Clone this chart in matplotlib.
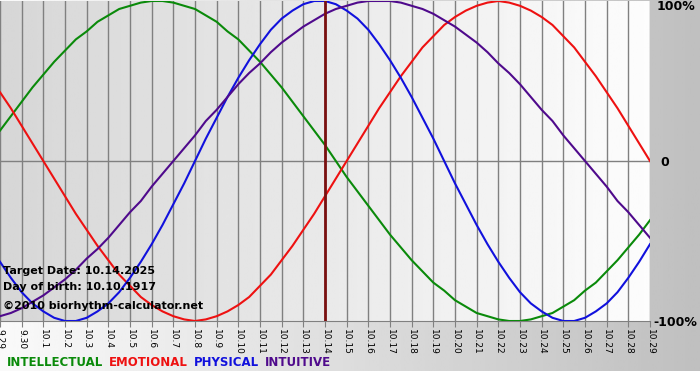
import numpy as np
import matplotlib
matplotlib.use("Agg")
import matplotlib.pyplot as plt

# day labels, 9.29 .. 10.29
dates = ["9.29", "9.30"] + ["10.%d" % i for i in range(1, 30)]

# values (-1 .. 1), one every half day from 9.29 to 10.29
intellectual = [0.19, 0.28, 0.37, 0.46, 0.54, 0.62, 0.69, 0.76, 0.81, 0.87, 0.91, 0.95,
                0.97, 0.99, 1.00, 1.00, 0.99, 0.97, 0.95, 0.91, 0.87, 0.81, 0.76, 0.69,
                0.62, 0.54, 0.46, 0.37, 0.28, 0.19, 0.10, 0.00, -0.10, -0.19, -0.28,
                -0.37, -0.46, -0.54, -0.62, -0.69, -0.76, -0.81, -0.87, -0.91, -0.95,
                -0.97, -0.99, -1.00, -1.00, -0.99, -0.97, -0.95, -0.91, -0.87, -0.81,
                -0.76, -0.69, -0.62, -0.54, -0.46, -0.37]
emotional = [0.43, 0.33, 0.22, 0.11, 0.00, -0.11, -0.22, -0.33, -0.43, -0.53, -0.62,
             -0.71, -0.78, -0.85, -0.90, -0.94, -0.97, -0.99, -1.00, -0.99, -0.97,
             -0.94, -0.90, -0.85, -0.78, -0.71, -0.62, -0.53, -0.43, -0.33, -0.22,
             -0.11, 0.00, 0.11, 0.22, 0.33, 0.43, 0.53, 0.62, 0.71, 0.78, 0.85, 0.90,
             0.94, 0.97, 0.99, 1.00, 0.99, 0.97, 0.94, 0.90, 0.85, 0.78, 0.71, 0.62,
             0.53, 0.43, 0.33, 0.22, 0.11, 0.00]
physical = [-0.63, -0.73, -0.82, -0.89, -0.94, -0.98, -1.00, -1.00, -0.98, -0.94, -0.89,
            -0.82, -0.73, -0.63, -0.52, -0.40, -0.27, -0.14, 0.00, 0.14, 0.27, 0.40,
            0.52, 0.63, 0.73, 0.82, 0.89, 0.94, 0.98, 1.00, 1.00, 0.98, 0.94, 0.89,
            0.82, 0.73, 0.63, 0.52, 0.40, 0.27, 0.14, 0.00, -0.14, -0.27, -0.40, -0.52,
            -0.63, -0.73, -0.82, -0.89, -0.94, -0.98, -1.00, -1.00, -0.98, -0.94,
            -0.89, -0.82, -0.73, -0.63, -0.52]
intuitive = [-0.97, -0.95, -0.92, -0.88, -0.84, -0.79, -0.74, -0.68, -0.61, -0.55, -0.48,
             -0.40, -0.32, -0.25, -0.16, -0.08, 0.00, 0.08, 0.16, 0.25, 0.32, 0.40,
             0.48, 0.55, 0.61, 0.68, 0.74, 0.79, 0.84, 0.88, 0.92, 0.95, 0.97, 0.99,
             1.00, 1.00, 1.00, 0.99, 0.97, 0.95, 0.92, 0.88, 0.84, 0.79, 0.74, 0.68,
             0.61, 0.55, 0.48, 0.40, 0.32, 0.25, 0.16, 0.08, 0.00, -0.08, -0.16, -0.25,
             -0.32, -0.40, -0.48]

target_idx = 15  # 10.14

series = [("INTELLECTUAL", intellectual, "#0a8a0a"),
          ("EMOTIONAL", emotional, "#ee1111"),
          ("PHYSICAL", physical, "#1111dd"),
          ("INTUITIVE", intuitive, "#4f0a8c")]

W, H = 700, 380
fig = plt.figure(figsize=(7, 3.8), dpi=100)

# figure background: white -> gray from left to right
bg = fig.add_axes([0, 0, 1, 1])
bg.set_axis_off()
grad = np.linspace(0.98, 0.75, 256)[None, :]
bg.imshow(grad, cmap="gray", vmin=0, vmax=1, aspect="auto", extent=[0, 1, 0, 1])
bg.axhspan(0, 9 / H, color="white", lw=0)
bg.set_xlim(0, 1)
bg.set_ylim(0, 1)

ax = fig.add_axes([0, 59 / H, 650 / W, 320 / H])
days = np.arange(len(dates))
ax.set_xlim(0, len(dates) - 1)
ax.set_ylim(-1, 1)

# plot area background: gray -> white
pgrad = np.linspace(0.84, 0.99, 256)[None, :]
ax.imshow(pgrad, cmap="gray", vmin=0, vmax=1, aspect="auto",
          extent=[0, len(dates) - 1, -1, 1], zorder=0)

for d in days:
    ax.axvline(d, color="#808080", lw=1, zorder=1)
ax.axhline(0, color="#808080", lw=1, zorder=1)

for name, vals, col in series:
    xs = np.arange(len(vals)) * 0.5
    ax.plot(xs, vals, color=col, lw=1.5, zorder=3)

ax.axvline(target_idx, color="#7a1010", lw=2, zorder=4)

for s in ["top", "right", "left"]:
    ax.spines[s].set_visible(False)
ax.spines["bottom"].set_color("#808080")
ax.set_yticks([])
ax.set_xticks(days)
ax.set_xticklabels(dates, rotation=-90, fontsize=6.5)
ax.tick_params(axis="x", length=4, color="#808080", pad=2)

# right hand labels
fig.text(695 / W, 1 - 7 / H, "100%", ha="right", va="center", fontsize=9, fontweight="bold")
fig.text(660 / W, 1 - 162 / H, "0", ha="left", va="center", fontsize=9, fontweight="bold")
fig.text(697 / W, 1 - 322 / H, "-100%", ha="right", va="center", fontsize=9, fontweight="bold")

# info text inside the plot
fig.text(3 / W, 1 - 271 / H, "Target Date: 10.14.2025", ha="left", va="center",
         fontsize=8, fontweight="bold")
fig.text(3 / W, 1 - 287 / H, "Day of birth: 10.10.1917", ha="left", va="center",
         fontsize=8, fontweight="bold")
fig.text(3 / W, 1 - 306 / H, "\u00a92010 biorhythm-calculator.net", ha="left", va="center",
         fontsize=8, fontweight="bold")

# coloured legend words
xpos = 7
for name, vals, col in series:
    t = fig.text(xpos / W, 1 - 362 / H, name, ha="left", va="center",
                 fontsize=8.5, fontweight="bold", color=col)
    fig.canvas.draw()
    bb = t.get_window_extent()
    xpos = bb.x1 + 6

fig.savefig("out.png", dpi=100)
